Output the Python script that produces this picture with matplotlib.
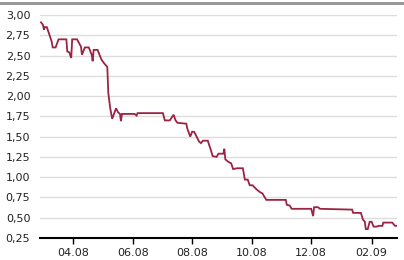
import numpy as np
import pandas as pd
import matplotlib
matplotlib.use("Agg")
import matplotlib.pyplot as plt
import matplotlib.dates as mdates
from matplotlib.ticker import FixedLocator, FuncFormatter

# kursverlauf
dates = [
    "2008-02-28", "2008-03-01", "2008-03-02", "2008-03-03", "2008-03-05", "2008-03-07",
    "2008-03-10", "2008-03-11", "2008-03-14", "2008-03-17", "2008-03-25", "2008-03-26",
    "2008-03-28", "2008-03-30", "2008-03-31", "2008-04-05", "2008-04-09", "2008-04-10",
    "2008-04-13", "2008-04-17", "2008-04-20", "2008-04-21", "2008-04-22", "2008-04-26",
    "2008-04-28", "2008-04-30", "2008-05-03", "2008-05-06", "2008-05-07", "2008-05-09",
    "2008-05-11", "2008-05-15", "2008-05-17", "2008-05-19", "2008-05-20", "2008-05-21",
    "2008-06-03", "2008-06-05", "2008-06-06", "2008-07-02", "2008-07-04", "2008-07-09",
    "2008-07-13", "2008-07-15", "2008-07-17", "2008-07-26", "2008-07-27", "2008-07-30",
    "2008-08-01", "2008-08-03", "2008-08-06", "2008-08-08", "2008-08-10", "2008-08-12",
    "2008-08-17", "2008-08-20", "2008-08-22", "2008-08-26", "2008-08-28", "2008-09-02",
    "2008-09-03", "2008-09-04", "2008-09-07", "2008-09-10", "2008-09-12", "2008-09-16",
    "2008-09-22", "2008-09-24", "2008-09-27", "2008-09-29", "2008-10-02", "2008-10-06",
    "2008-10-09", "2008-10-12", "2008-10-14", "2008-10-16", "2008-11-05", "2008-11-06",
    "2008-11-09", "2008-11-11", "2008-12-01", "2008-12-03", "2008-12-04", "2008-12-08",
    "2008-12-10", "2009-01-12", "2009-01-13", "2009-01-21", "2009-01-23", "2009-01-25",
    "2009-01-26", "2009-01-28", "2009-01-30", "2009-02-01", "2009-02-03", "2009-02-06",
    "2009-02-08", "2009-02-12", "2009-02-13", "2009-02-22", "2009-02-25", "2009-02-27",
]
prices = [
    2.91, 2.88, 2.82, 2.85, 2.85, 2.78,
    2.67, 2.60, 2.60, 2.70, 2.70, 2.55,
    2.54, 2.47, 2.70, 2.70, 2.61, 2.51,
    2.60, 2.60, 2.51, 2.43, 2.57, 2.57,
    2.51, 2.45, 2.40, 2.36, 2.04, 1.85,
    1.72, 1.85, 1.80, 1.78, 1.69, 1.78,
    1.78, 1.76, 1.79, 1.79, 1.70, 1.70,
    1.77, 1.70, 1.67, 1.66, 1.60, 1.50,
    1.56, 1.56, 1.49, 1.44, 1.42, 1.45,
    1.45, 1.34, 1.26, 1.25, 1.29, 1.29,
    1.35, 1.22, 1.19, 1.17, 1.10, 1.11,
    1.11, 0.97, 0.97, 0.90, 0.90, 0.85,
    0.82, 0.80, 0.76, 0.72, 0.72, 0.66,
    0.65, 0.61, 0.61, 0.52, 0.63, 0.63,
    0.61, 0.60, 0.56, 0.56, 0.48, 0.45,
    0.36, 0.36, 0.45, 0.45, 0.39, 0.39,
    0.40, 0.40, 0.44, 0.44, 0.40, 0.40,
]
y_ticks = [0.25, 0.50, 0.75, 1.00, 1.25, 1.50, 1.75, 2.00, 2.25, 2.50, 2.75, 3.00]
x_ticks = ["2008-04-01", "2008-06-01", "2008-08-01", "2008-10-01", "2008-12-01", "2009-02-01"]

LINE = "#9b2343"

x = pd.to_datetime(dates)
fig = plt.figure(figsize=(4.04, 2.60), dpi=100)
ax = fig.add_axes([40 / 404, 1 - 238 / 260, 357 / 404, 223 / 260])

# grauer balken oben
fig.add_artist(plt.Rectangle((0, 1 - 4.5 / 260), 1, 3 / 260, transform=fig.transFigure,
                             color="#999999", lw=0))

ax.plot(x, prices, color=LINE, lw=1.3, solid_joinstyle="miter")

ax.set_ylim(0.25, 3.0)
ax.set_xlim(pd.Timestamp("2008-02-27"), pd.Timestamp("2009-02-27"))
ax.yaxis.set_major_locator(FixedLocator(y_ticks))
ax.yaxis.set_major_formatter(FuncFormatter(lambda v, p: ("%.2f" % v).replace(".", ",")))
ax.set_xticks(pd.to_datetime(x_ticks))
ax.xaxis.set_major_formatter(mdates.DateFormatter("%m.%y"))

ax.grid(axis="y", color="#dddddd", lw=1.0)
ax.set_axisbelow(True)
for s in ("top", "right", "left"):
    ax.spines[s].set_visible(False)
ax.spines["bottom"].set_color("black")
ax.spines["bottom"].set_linewidth(1.5)
ax.spines["bottom"].set_zorder(3)

ax.tick_params(axis="y", length=0, pad=7, labelsize=8, colors="#222222")
ax.tick_params(axis="x", length=4, width=1, pad=3, labelsize=8, colors="black",
               labelcolor="#222222")

fig.savefig("out.png", dpi=100, facecolor="white")
